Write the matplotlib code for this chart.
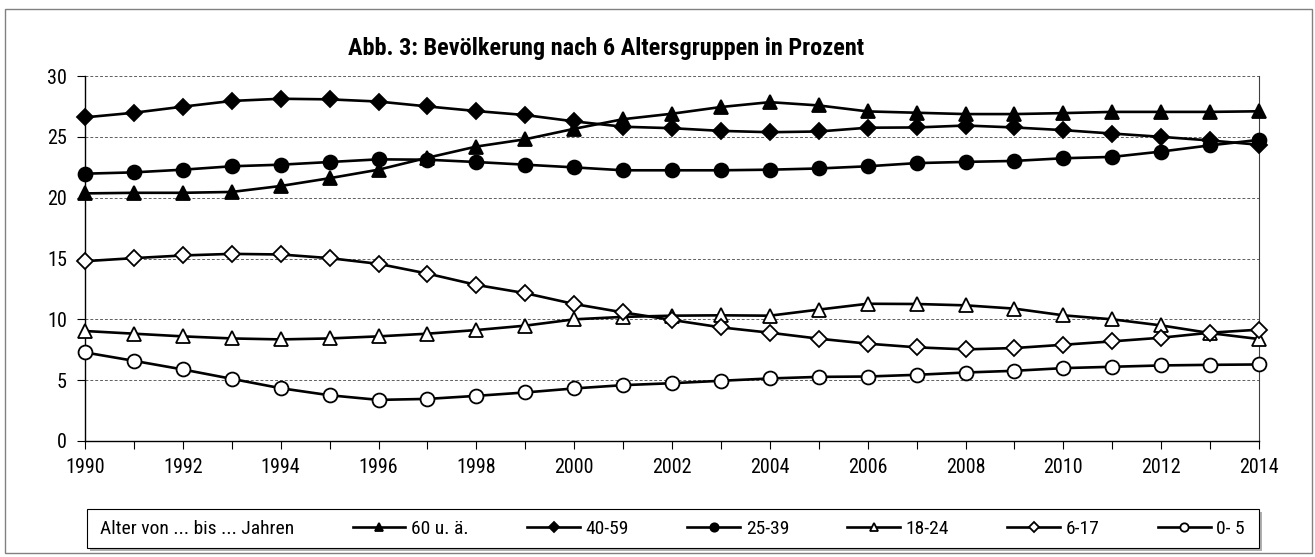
import matplotlib
matplotlib.use('Agg')
import matplotlib.pyplot as plt
from matplotlib.patches import Rectangle
from matplotlib.lines import Line2D
from matplotlib import font_manager

# Arial Narrow look-alike: first family that has static regular + bold faces
fonts = font_manager.fontManager.ttflist
def faces(name):
    return {str(f.weight) for f in fonts if f.name == name and f.style == 'normal'
            and '[' not in f.fname}
FONT = 'Liberation Sans'
for cand in ['Liberation Sans Narrow', 'Arial Narrow', 'Roboto Condensed', 'PT Sans Narrow',
             'Open Sans Condensed', 'Fira Sans Condensed', 'IBM Plex Sans Condensed',
             'Asap Condensed', 'Barlow Semi Condensed']:
    w = faces(cand)
    if {'400', '700'} <= w or {'normal', 'bold'} <= w:
        FONT = cand
        break
plt.rcParams['font.family'] = [FONT, 'DejaVu Sans']

years = list(range(1990, 2015))
age_60 = [20.35, 20.4, 20.4, 20.47, 20.96, 21.6, 22.3, 23.28, 24.2, 24.8, 25.66, 26.45,
          26.9, 27.45, 27.85, 27.58, 27.09, 26.98, 26.87, 26.87, 26.95, 27.05, 27.05, 27.05, 27.1]
age_40 = [26.6, 26.98, 27.48, 27.95, 28.13, 28.08, 27.9, 27.5, 27.12, 26.79, 26.27, 25.83,
          25.71, 25.49, 25.38, 25.44, 25.75, 25.77, 25.93, 25.77, 25.55, 25.27, 25.0, 24.7, 24.35]
age_25 = [21.97, 22.08, 22.3, 22.58, 22.71, 22.93, 23.15, 23.12, 22.93, 22.71, 22.49, 22.25,
          22.25, 22.25, 22.3, 22.4, 22.58, 22.84, 22.94, 23.02, 23.24, 23.35, 23.79, 24.3, 24.75]
age_18 = [9.04, 8.82, 8.6, 8.43, 8.35, 8.43, 8.6, 8.82, 9.12, 9.48, 10.0, 10.2,
          10.3, 10.33, 10.3, 10.8, 11.28, 11.26, 11.15, 10.88, 10.33, 10.0, 9.5, 8.87, 8.38]
age_6 = [14.78, 15.03, 15.25, 15.38, 15.33, 15.03, 14.56, 13.76, 12.83, 12.15, 11.26, 10.57,
         9.95, 9.34, 8.9, 8.41, 8.0, 7.7, 7.53, 7.64, 7.91, 8.19, 8.49, 8.9, 9.15]
age_0 = [7.28, 6.59, 5.88, 5.11, 4.34, 3.76, 3.38, 3.46, 3.71, 3.99, 4.32, 4.59,
         4.75, 4.95, 5.14, 5.27, 5.3, 5.44, 5.63, 5.77, 5.99, 6.1, 6.21, 6.26, 6.29]

series = [
    ('60 u. ä.', age_60, '^', 'black', 10),
    ('40-59', age_40, 'D', 'black', 8),
    ('25-39', age_25, 'o', 'black', 10),
    ('18-24', age_18, '^', 'white', 10),
    ('6-17', age_6, 'D', 'white', 8),
    ('0- 5', age_0, 'o', 'white', 10),
]

W, H = 1315, 557
px = lambda x0, y0, x1, y1: (x0/W, 1-y1/H, (x1-x0)/W, (y1-y0)/H)   # pixel box -> fig coords

fig = plt.figure(figsize=(W/100, H/100), dpi=100, facecolor='white')
# outer chart frame
x, y, w, h = px(5, 9, 1312, 553)
fig.add_artist(Rectangle((x, y), w, h, transform=fig.transFigure,
                         fill=False, edgecolor='#808080', lw=1.0))
ax = fig.add_axes(px(85, 76, 1259, 441))

handles = []
for label, vals, mk, fc, ms in series:
    h_, = ax.plot(years, vals, color='black', lw=1.9, marker=mk, markersize=ms,
                  markerfacecolor=fc, markeredgecolor='black', markeredgewidth=1.3,
                  label=label, zorder=3, clip_on=False)
    handles.append(h_)

ax.set_xlim(1990, 2014)
ax.set_ylim(0, 30)
ax.set_yticks(range(0, 31, 5))
ax.set_xticks(range(1990, 2015, 2))
ax.set_xticks(years, minor=True)
ax.yaxis.grid(True, linestyle=(0, (3, 2)), color='#606060', lw=0.7)
ax.set_axisbelow(True)
ax.spines['top'].set_visible(False)
ax.spines['right'].set_color('#404040')
ax.spines['right'].set_linewidth(0.8)
ax.spines['left'].set_linewidth(1.0)
ax.spines['bottom'].set_linewidth(1.0)
ax.tick_params(axis='both', which='both', direction='out', labelsize=14.5, width=0.8)
ax.tick_params(axis='x', which='both', length=6, pad=6)
ax.tick_params(axis='y', length=6, pad=7)

fig.text(606/W, 1-49/H, 'Abb. 3: Bevölkerung nach 6 Altersgruppen in Prozent',
         ha='center', va='center', fontsize=17.5, fontweight='bold')

# legend box with a soft shadow (drawn as patches), entries from fig.legend
x, y, w, h = px(90, 512, 1262, 551)
fig.add_artist(Rectangle((x, y), w, h, transform=fig.transFigure,
                         facecolor='#b0b0b0', edgecolor='none', zorder=1))
x, y, w, h = px(87, 509, 1259, 548)
fig.add_artist(Rectangle((x, y), w, h, transform=fig.transFigure,
                         facecolor='white', edgecolor='black', lw=0.8, zorder=2))

blank = Line2D([], [], color='none')
leg_handles = [blank] + handles
leg_labels = ['Alter von ... bis ... Jahren'] + [s[0] for s in series]
leg = fig.legend(leg_handles, leg_labels, ncol=7, loc='center',
                 bbox_to_anchor=px(42, 509, 1245, 548),
                 mode='expand', fontsize=14, frameon=False,
                 handlelength=2.7, handletextpad=0.3, borderaxespad=0, borderpad=0,
                 markerscale=0.6)
leg.set_zorder(5)

fig.savefig('out.png', dpi=100, facecolor='white')
